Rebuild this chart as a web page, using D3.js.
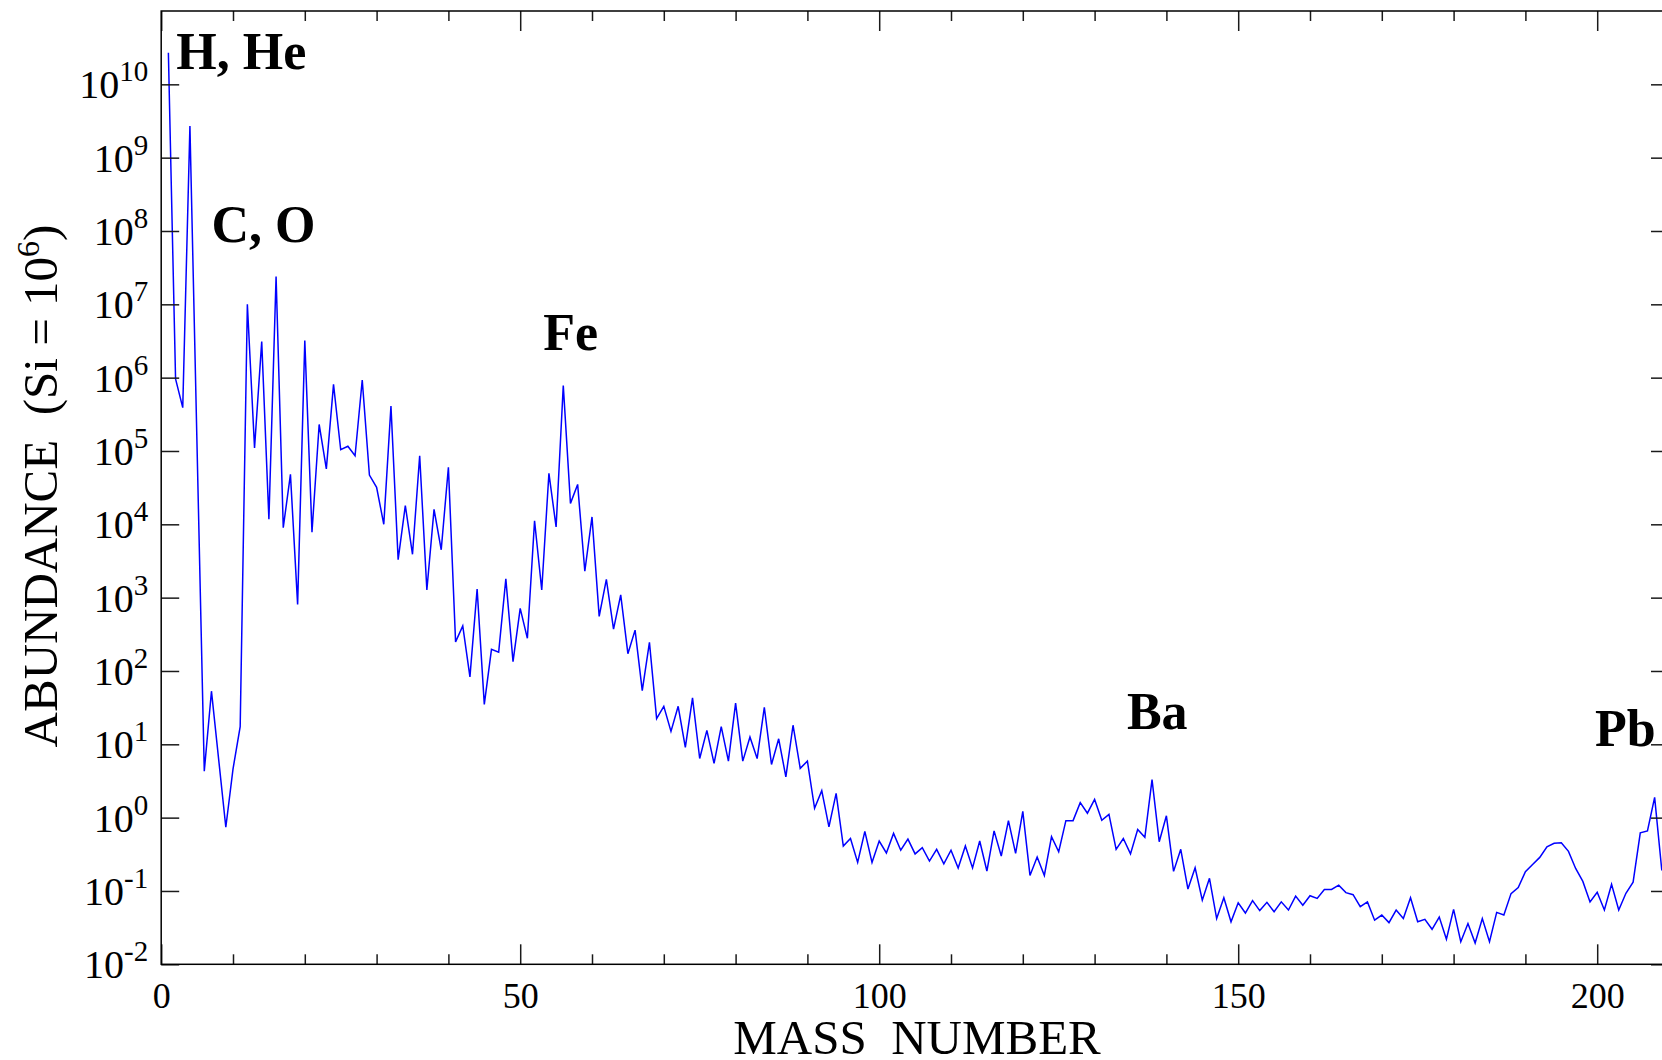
<!DOCTYPE html>
<html>
<head>
<meta charset="utf-8">
<script src="https://cdn.jsdelivr.net/npm/d3@7"></script>
<style>
  html, body { margin: 0; padding: 0; background: #fff; overflow: hidden; }
  svg { display: block; }
  text { font-family: "Liberation Serif", "Times New Roman", serif; fill: #000; }
</style>
</head>
<body>
<svg id="chart" width="1662" height="1060"></svg>
<script>
// Solar-system abundance per mass number, normalised to Si = 10^6
const massNumbers = [
  1, 2, 3, 4, 6, 7, 9, 10, 11, 12, 13, 14, 15, 16, 17, 18, 19, 20,
  21, 22, 23, 24, 25, 26, 27, 28, 29, 30, 31, 32, 33, 34, 35, 36, 37, 38, 39, 40,
  41, 42, 43, 44, 45, 46, 47, 48, 49, 50, 51, 52, 53, 54, 55, 56, 57, 58, 59, 60,
  61, 62, 63, 64, 65, 66, 67, 68, 69, 70, 71, 72, 73, 74, 75, 76, 77, 78, 79, 80,
  81, 82, 83, 84, 85, 86, 87, 88, 89, 90, 91, 92, 93, 94, 95, 96, 97, 98, 99, 100,
  101, 102, 103, 104, 105, 106, 107, 108, 109, 110, 111, 112, 113, 114, 115, 116, 117, 118, 119, 120,
  121, 122, 123, 124, 125, 126, 127, 128, 129, 130, 131, 132, 133, 134, 135, 136, 137, 138, 139, 140,
  141, 142, 143, 144, 145, 146, 147, 148, 149, 150, 151, 152, 153, 154, 155, 156, 157, 158, 159, 160,
  161, 162, 163, 164, 165, 166, 167, 168, 169, 170, 171, 172, 173, 174, 175, 176, 177, 178, 179, 180,
  181, 182, 183, 184, 185, 186, 187, 188, 189, 190, 191, 192, 193, 194, 195, 196, 197, 198, 199, 200,
  201, 202, 203, 204, 205, 206, 207, 208, 209
];

const abundances = [
  2.7e10, 9.6e5, 3.9e5, 2.7e9, 4.3, 53, 0.74, 4.6, 17.4, 1.0e7, 1.1e5, 3.1e6, 1.17e4, 2.4e7, 9.0e3, 4.8e4, 810, 3.2e6,
  7.8e3, 2.3e5, 5.7e4, 8.1e5, 1.04e5, 1.16e5, 8.6e4, 9.3e5, 4.7e4, 3.2e4, 1.0e4, 4.1e5, 3.3e3, 1.8e4, 3.9e3, 8.6e4, 1270, 1.6e4, 4.5e3, 6.0e4,
  249, 411, 83, 1310, 35, 197, 180, 1800, 134, 715, 279, 1.12e4, 1270, 4.95e4, 9.2e3, 7.8e5, 1.93e4, 3.5e4, 2290, 1.26e4,
  556, 1780, 373, 1090, 172, 361, 54, 245, 22.4, 33, 15, 33, 9.1, 43, 6.4, 15.5, 5.5, 17.4, 5.9, 36.5,
  5.9, 12.6, 6.4, 32, 5.3, 11.9, 3.6, 18.2, 4.7, 5.9, 1.34, 2.33, 0.75, 2.14, 0.41, 0.52, 0.245, 0.65, 0.245, 0.48,
  0.33, 0.61, 0.36, 0.51, 0.32, 0.39, 0.256, 0.37, 0.235, 0.36, 0.206, 0.41, 0.206, 0.48, 0.187, 0.66, 0.30, 0.91, 0.326, 1.22,
  0.163, 0.29, 0.163, 0.55, 0.343, 0.91, 0.91, 1.6, 1.15, 1.77, 0.92, 1.11, 0.37, 0.52, 0.32, 0.69, 0.54, 3.3, 0.47, 1.06,
  0.185, 0.37, 0.106, 0.207, 0.075, 0.149, 0.042, 0.081, 0.038, 0.069, 0.050, 0.074, 0.054, 0.070, 0.052, 0.071, 0.055, 0.085, 0.064, 0.086,
  0.079, 0.105, 0.105, 0.12, 0.095, 0.089, 0.061, 0.071, 0.040, 0.047, 0.037, 0.055, 0.042, 0.081, 0.038, 0.041, 0.030, 0.044, 0.022, 0.056,
  0.0203, 0.036, 0.0195, 0.042, 0.0203, 0.051, 0.047, 0.092, 0.111, 0.183, 0.23, 0.287, 0.40, 0.446, 0.455, 0.347, 0.203, 0.135, 0.071, 0.096,
  0.055, 0.123, 0.055, 0.093, 0.132, 0.62, 0.66, 1.89, 0.19
];

// Axis ticks
const xMajorTicks = [0, 50, 100, 150, 200];
const xMinorTicks = [10, 20, 30, 40, 60, 70, 80, 90, 110, 120, 130, 140, 160, 170, 180, 190];
const yTickExponents = [-2, -1, 0, 1, 2, 3, 4, 5, 6, 7, 8, 9, 10];

// Element labels: anchor (mass number, abundance) of each label's baseline start
const peakLabels = ["H, He", "C, O", "Fe", "Ba", "Pb"];
const peakMass = [2.1, 7.0, 53.2, 134.5, 199.7];
const peakAbund = [1.6e10, 7.1e7, 2.4e6, 16, 9.5];

const margin = { left: 161.2, top: 11 };
const plotW = 1507.8, plotH = 953.3;

const svg = d3.select("#chart");
const g = svg.append("g").attr("transform", `translate(${margin.left},${margin.top})`);

const x = d3.scaleLinear().domain([0, 210]).range([0, plotW]);
const y = d3.scaleLog().domain([1e-2, 1e11]).range([plotH, 0]);

svg.append("defs").append("clipPath").attr("id", "plotClip")
  .append("rect").attr("width", plotW).attr("height", plotH);

// abundance curve
const points = massNumbers.map((m, i) => [m, abundances[i]]);
g.append("path")
  .datum(points)
  .attr("clip-path", "url(#plotClip)")
  .attr("fill", "none")
  .attr("stroke", "#0000ff")
  .attr("stroke-width", 1.5)
  .attr("stroke-linejoin", "miter")
  .attr("d", d3.line().x(d => x(d[0])).y(d => y(d[1])));

function styleAxis(sel) {
  sel.select(".domain").remove();
  sel.selectAll(".tick line").attr("stroke", "#1a1a1a").attr("stroke-width", 1.5);
}

// bottom axis: major + minor ticks pointing inward
const xBottom = g.append("g").attr("transform", `translate(0,${plotH})`)
  .call(d3.axisBottom(x).tickValues(xMajorTicks).tickSizeInner(-20).tickSizeOuter(0).tickPadding(18).tickFormat(d3.format("d")));
styleAxis(xBottom);
xBottom.selectAll(".tick text").attr("font-size", 36).attr("font-family", "Liberation Serif");
g.append("g").attr("transform", `translate(0,${plotH})`)
  .call(d3.axisBottom(x).tickValues(xMinorTicks).tickSizeInner(-10).tickSizeOuter(0).tickFormat(""))
  .call(styleAxis);

// top axis
g.append("g")
  .call(d3.axisTop(x).tickValues(xMajorTicks).tickSizeInner(-20).tickSizeOuter(0).tickFormat(""))
  .call(styleAxis);
g.append("g")
  .call(d3.axisTop(x).tickValues(xMinorTicks).tickSizeInner(-10).tickSizeOuter(0).tickFormat(""))
  .call(styleAxis);

// left axis with power-of-ten labels
const yVals = yTickExponents.map(e => Math.pow(10, e));
const yLeft = g.append("g")
  .call(d3.axisLeft(y).tickValues(yVals).tickSizeInner(-18).tickSizeOuter(0).tickPadding(13).tickFormat(""));
styleAxis(yLeft);
yLeft.selectAll(".tick text")
  .attr("font-size", 40)
  .attr("font-family", "Liberation Serif")
  .attr("dy", "0.34em")
  .each(function(d) {
    const t = d3.select(this);
    const e = Math.round(Math.log10(d));
    t.text(null);
    t.append("tspan").text("10");
    t.append("tspan").attr("font-size", 29).attr("dy", -17).text(e < 0 ? "-" + (-e) : String(e));
  });

// right axis
g.append("g").attr("transform", `translate(${plotW},0)`)
  .call(d3.axisRight(y).tickValues(yVals).tickSizeInner(-18).tickSizeOuter(0).tickFormat(""))
  .call(styleAxis);

// frame
g.append("rect").attr("width", plotW).attr("height", plotH)
  .attr("fill", "none").attr("stroke", "#000").attr("stroke-width", 1.5);

// peak labels
g.selectAll("text.peak").data(peakLabels).enter().append("text")
  .attr("class", "peak")
  .attr("x", (d, i) => x(peakMass[i]))
  .attr("y", (d, i) => y(peakAbund[i]))
  .attr("font-size", 52)
  .attr("font-weight", "bold")
  .text(d => d);

// axis titles
svg.append("text")
  .attr("x", 917).attr("y", 1054)
  .attr("text-anchor", "middle")
  .attr("font-size", 49)
  .style("white-space", "pre")
  .text("MASS  NUMBER");

const yTitle = svg.append("text")
  .attr("transform", "translate(57,486) rotate(-90)")
  .attr("text-anchor", "middle")
  .attr("font-size", 49)
  .style("white-space", "pre");
yTitle.append("tspan").text("ABUNDANCE  (Si = 10");
yTitle.append("tspan").attr("font-size", 32).attr("dy", -18).text("6");
yTitle.append("tspan").attr("dy", 18).text(")");
</script>
</body>
</html>
